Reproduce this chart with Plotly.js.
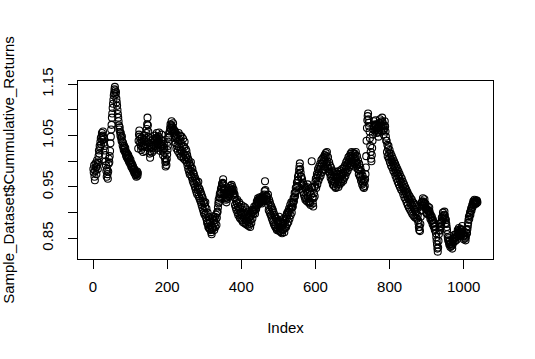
<!DOCTYPE html>
<html>
<head>
<meta charset="utf-8">
<script src="https://cdn.plot.ly/plotly-3.0.1.min.js"></script>
<style>
html,body{margin:0;padding:0;background:#fff;}
#chart{width:535px;height:359px;}
</style>
</head>
<body>
<div id="chart"></div>
<script>
// Cumulative returns (Index 1..N)
var cumulativeReturns = [
0.985,0.978,0.992,0.970,0.963,0.981,0.996,0.988,0.975,0.990,1.002,0.994,0.985,
0.998,1.010,1.021,1.015,1.030,1.026,1.038,1.045,1.033,1.048,1.055,1.042,1.050,1.058,1.047,1.036,1.044,1.030,1.021,1.012,
1.000,0.992,0.981,0.970,0.985,0.975,0.966,0.980,0.995,1.005,0.998,1.010,1.020,
1.035,1.048,1.062,1.071,1.085,1.093,1.104,1.112,1.120,1.128,1.133,1.140,1.145,
1.138,1.130,1.135,1.122,1.115,1.108,1.100,1.092,1.085,
1.078,1.070,1.062,1.066,1.057,1.050,1.055,1.046,1.040,1.048,1.038,1.031,1.036,1.027,1.022,1.030,1.025,1.018,1.026,1.020,1.012,1.017,1.008,1.015,1.010,1.004,1.012,1.006,
0.999,1.007,1.001,0.995,1.003,0.997,0.990,0.996,0.988,0.993,0.985,0.990,0.982,0.986,0.978,0.984,0.976,0.981,0.973,0.978,0.970,0.975,0.980,0.972,0.977,
1.025,1.040,1.052,1.060,1.048,1.036,1.044,1.030,1.022,1.035,1.046,1.038,1.027,1.018,1.030,1.042,1.050,1.039,1.028,1.020,
1.032,1.045,1.055,1.063,1.072,1.085,1.070,1.058,1.047,1.036,1.025,1.015,1.007,1.019,1.031,1.040,1.028,1.017,1.025,1.036,
1.044,1.032,1.021,1.030,1.042,1.050,1.040,1.029,1.035,1.046,1.055,1.043,1.034,1.026,1.038,1.048,1.056,1.045,1.036,1.028,
1.020,1.032,1.042,1.052,1.040,1.030,1.021,1.012,1.024,1.034,1.026,1.016,1.006,0.998,0.990,1.000,0.993,1.004,1.013,1.022,
1.030,1.038,1.046,1.054,1.048,1.058,1.065,1.072,1.062,1.070,1.078,1.068,1.060,1.066,1.074,1.063,1.055,1.060,1.050,1.045,
1.058,1.035,1.048,1.025,1.052,1.030,1.045,1.020,1.040,1.055,1.028,1.015,1.042,1.050,1.022,1.010,1.035,1.048,1.020,1.008,
1.030,1.044,1.015,1.005,1.028,1.038,1.012,1.002,1.024,1.008,
1.020,0.998,1.012,0.992,1.006,0.985,1.002,0.980,0.996,0.975,0.992,0.982,0.998,0.972,0.988,0.968,0.985,0.962,0.978,0.958,
0.975,0.955,0.970,0.950,0.966,0.945,0.962,0.940,0.958,0.936,0.952,0.944,0.960,0.932,0.948,0.928,0.945,0.924,0.940,0.920,
0.936,0.915,0.932,0.910,0.928,0.905,0.922,0.900,0.918,0.896,
0.912,0.920,0.898,0.890,0.908,0.885,0.880,0.900,0.878,0.872,0.892,0.870,0.885,0.868,0.882,0.866,0.876,0.862,0.858,0.868,
0.872,0.888,0.893,0.870,0.885,0.866,0.880,0.892,0.872,0.886,0.896,0.876,0.890,0.900,
0.902,0.910,0.918,0.925,0.920,0.930,0.936,0.928,0.940,0.946,0.938,0.950,0.956,0.948,0.958,0.965,
0.955,0.946,0.938,0.944,0.934,0.928,0.936,0.925,0.920,0.930,0.938,0.927,0.935,0.943,0.932,0.940,0.948,0.936,0.944,0.952,
0.940,0.947,0.954,0.945,0.950,0.942,0.935,0.945,0.938,0.930,
0.935,0.915,0.928,0.910,0.922,0.905,0.918,0.925,0.900,0.912,0.895,0.908,0.920,0.898,0.890,0.910,0.888,0.900,0.915,0.895,
0.885,0.905,0.882,0.898,0.912,0.890,0.880,0.900,0.910,0.888,0.878,0.896,0.906,0.884,0.876,0.892,0.902,0.882,0.874,0.890,
0.878,0.892,0.872,0.886,0.898,0.880,0.896,0.905,0.888,0.902,
0.906,0.898,0.904,0.912,0.905,0.898,0.906,0.914,0.907,0.915,0.922,0.914,0.920,0.928,0.920,0.926,0.918,0.924,0.930,0.922,
0.928,0.920,0.926,0.918,0.925,0.932,0.924,0.930,0.922,0.928,0.935,0.942,0.961,0.944,0.932,0.926,0.933,0.925,0.930,0.922,
0.935,0.915,0.905,0.925,0.902,0.920,0.898,0.915,0.895,0.912,0.890,0.908,0.886,0.905,0.882,0.900,0.878,0.896,0.875,0.892,
0.872,0.890,0.870,0.888,0.866,0.884,0.870,0.882,0.865,0.880,0.892,0.872,0.864,0.885,0.870,0.862,0.882,0.868,0.860,0.878,
0.866,0.880,0.888,0.868,0.862,0.880,0.870,0.885,0.892,0.872,0.888,0.898,0.878,0.895,0.902,0.882,0.900,0.908,0.888,0.905,
0.915,0.895,0.910,0.920,0.900,
0.910,0.918,0.912,0.920,0.928,0.922,0.930,0.938,0.932,0.940,0.948,0.942,0.950,0.958,0.952,0.962,0.970,0.964,0.975,0.983,
0.990,0.996,0.985,0.978,0.970,
0.970,0.955,0.965,0.945,0.958,0.940,0.955,0.935,0.950,0.930,0.948,0.925,0.945,0.928,0.950,0.922,0.940,0.955,0.930,0.920,
0.945,0.922,0.918,0.940,0.920,0.915,0.935,0.948,1.000,0.950,0.930,0.918,0.912,0.928,0.938,0.950,0.932,0.952,0.960,0.966,
0.948,0.968,0.975,0.955,0.972,0.985,0.962,0.980,0.990,0.968,0.985,0.995,0.972,0.990,1.002,0.978,0.995,1.005,0.982,0.998,
1.008,0.985,1.002,1.012,0.990,1.008,1.016,0.995,1.010,1.018,1.000,0.990,1.008,0.985,0.980,
0.998,0.978,0.992,0.975,0.968,0.988,0.972,0.962,0.982,0.965,0.955,0.978,0.960,0.952,0.970,0.980,0.958,0.950,0.948,0.968,
0.975,0.955,0.970,0.980,0.960,0.950,0.965,0.975,0.955,0.970,0.982,0.960,0.975,0.958,0.972,0.985,0.965,0.978,0.962,0.976,
0.988,0.968,0.980,0.992,0.972,0.985,0.998,0.978,0.992,1.002,0.982,0.996,1.008,0.988,1.000,
1.010,0.992,1.005,1.015,0.996,1.010,1.018,1.000,0.992,1.008,1.016,0.998,0.990,1.008,1.015,0.995,1.010,1.018,1.000,0.992,
1.010,0.995,0.985,1.002,0.985,0.975,0.995,0.982,0.970,0.988,0.972,0.962,0.980,0.965,0.955,0.972,0.958,0.950,0.965,0.948,
0.960,0.952,0.965,0.975,0.988,1.010,1.040,1.065,1.080,1.088,
1.093,1.082,1.075,1.068,1.058,1.045,1.030,1.018,1.005,1.000,1.012,1.026,1.040,1.052,1.062,1.070,1.078,1.068,1.060,1.072,
1.080,1.070,1.062,1.055,1.064,1.072,1.065,1.056,1.048,1.058,1.066,1.074,1.082,1.075,1.068,1.060,1.070,1.078,1.085,1.076,
1.068,1.060,1.052,1.062,1.070,1.078,1.068,1.058,1.048,1.040,
1.040,1.018,1.032,1.010,1.025,1.030,1.005,1.015,1.022,0.998,1.008,1.015,0.992,1.002,1.010,0.988,0.998,1.005,0.982,0.992,
1.000,0.978,0.988,0.995,0.972,0.982,0.990,0.966,0.976,0.985,0.960,0.972,0.980,0.955,0.966,0.975,0.950,0.962,0.970,0.945,
0.958,0.966,0.942,0.952,0.960,0.936,0.948,0.955,0.930,0.942,
0.950,0.926,0.938,0.945,0.920,0.932,0.940,0.915,0.928,0.935,0.910,0.925,0.932,0.906,0.920,0.928,0.902,0.916,0.925,0.898,
0.912,0.920,0.895,0.908,0.918,0.892,0.905,0.915,0.890,0.902,0.912,0.898,0.888,0.908,0.895,0.885,0.880,0.872,0.866,0.872,
0.864,0.878,0.892,0.904,0.912,0.920,0.914,0.922,0.928,0.920,0.913,0.920,0.926,0.918,0.910,0.917,0.908,0.900,0.907,0.898,
0.905,0.912,0.903,0.896,0.904,0.910,0.902,0.895,0.888,0.896,0.890,0.884,0.892,0.885,0.878,
0.886,0.880,0.873,0.880,0.872,0.866,0.874,0.868,0.860,0.852,0.845,0.838,0.830,0.824,0.832,0.845,0.858,0.866,0.872,0.865,
0.872,0.880,0.874,0.882,0.890,0.884,0.892,0.900,0.894,0.888,0.896,0.902,0.895,0.888,0.880,0.886,0.878,0.872,0.866,0.858,
0.852,0.846,0.850,0.843,0.838,
0.845,0.838,0.833,0.840,0.835,0.842,0.836,0.830,0.838,0.845,0.850,0.843,0.850,0.857,0.850,0.845,0.852,0.858,0.852,0.847,
0.854,0.860,0.866,0.858,0.864,0.870,0.862,0.856,0.862,0.868,0.860,0.855,0.861,0.867,0.874,0.866,0.860,0.853,0.848,0.855,
0.862,0.856,0.850,0.846,0.853,0.860,0.866,0.860,0.868,0.874,
0.880,0.886,0.892,0.888,0.895,0.900,0.896,0.903,0.908,0.904,0.910,0.915,0.911,0.918,0.922,0.916,0.920,0.925,0.918,0.922,
0.917,0.921,0.924,0.919,0.923,0.920
];
var indexValues = cumulativeReturns.map(function(_, i){ return i + 1; });

var xTickVals = [0, 200, 400, 600, 800, 1000];
var xTickText = ["0", "200", "400", "600", "800", "1000"];
var yTickVals = [0.85, 0.90, 0.95, 1.00, 1.05, 1.10, 1.15];
var yTickText = ["0.85", "", "0.95", "", "1.05", "", "1.15"];

var font = "Liberation Sans, Arial, Helvetica, sans-serif";

var trace = {
  x: indexValues,
  y: cumulativeReturns,
  type: "scatter",
  mode: "markers",
  marker: {symbol: "circle-open", size: 7, color: "#000", line: {width: 1.1, color: "#000"}},
  hoverinfo: "x+y"
};

var layout = {
  width: 535, height: 359,
  margin: {l: 78, r: 42, t: 81, b: 100, pad: 0},
  paper_bgcolor: "#fff", plot_bgcolor: "#fff",
  showlegend: false,
  font: {family: font, size: 15, color: "#000"},
  xaxis: {
    range: [-40.5, 1079],
    tickvals: xTickVals, ticktext: xTickText,
    ticks: "outside", ticklen: 9, tickwidth: 1, tickcolor: "#000",
    ticklabelstandoff: 5,
    showline: true, mirror: true, linecolor: "#000", linewidth: 1,
    showgrid: false, zeroline: false,
    tickfont: {family: font, size: 15, color: "#000"},
    title: {text: "Index", font: {family: font, size: 15, color: "#000"}, standoff: 28}
  },
  yaxis: {
    range: [0.8097, 1.1564],
    tickvals: yTickVals, ticktext: yTickText,
    tickangle: -90,
    ticks: "outside", ticklen: 9, tickwidth: 1, tickcolor: "#000",
    ticklabelstandoff: 9,
    showline: true, mirror: true, linecolor: "#000", linewidth: 1,
    showgrid: false, zeroline: false,
    tickfont: {family: font, size: 15, color: "#000"},
    title: {text: "Sample_Dataset$Cummulative_Returns", font: {family: font, size: 15, color: "#000"}, standoff: 26}
  }
};

Plotly.newPlot("chart", [trace], layout, {displayModeBar: false, staticPlot: true});
</script>
</body>
</html>
